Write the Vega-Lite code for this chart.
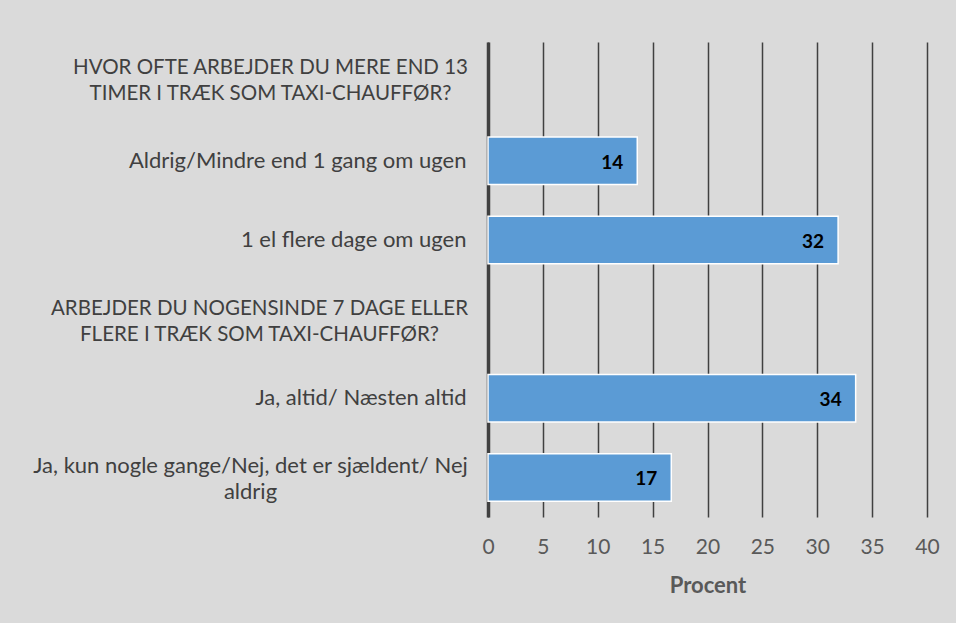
{
  "$schema": "https://vega.github.io/schema/vega-lite/v6.json",
  "width": 439,
  "height": 475,
  "autosize": {"type": "none"},
  "padding": {"left": 488, "top": 42, "right": 29, "bottom": 106},
  "background": "#dadada",
  "config": {"view": {"stroke": null}, "font": "Lato"},
  "data": {
    "values": [
      {"cat": "HVOR OFTE ARBEJDER DU MERE END 13|TIMER I TRÆK SOM TAXI-CHAUFFØR?", "order": 1, "value": null, "label": ""},
      {"cat": "Aldrig/Mindre end 1 gang om ugen", "order": 2, "value": 13.6, "label": "14"},
      {"cat": "1 el flere dage om ugen", "order": 3, "value": 31.9, "label": "32"},
      {"cat": "ARBEJDER DU NOGENSINDE 7 DAGE ELLER|FLERE I TRÆK SOM TAXI-CHAUFFØR?", "order": 4, "value": null, "label": ""},
      {"cat": "Ja, altid/ Næsten altid", "order": 5, "value": 33.5, "label": "34"},
      {"cat": "Ja, kun nogle gange/Nej, det er sjældent/ Nej|aldrig", "order": 6, "value": 16.7, "label": "17"}
    ]
  },
  "encoding": {
    "y": {
      "field": "cat",
      "type": "nominal",
      "sort": {"field": "order", "op": "min"},
      "scale": {"paddingInner": 0.4, "paddingOuter": 0.2},
      "axis": {
        "title": null,
        "ticks": false,
        "grid": false,
        "labelFont": "Lato",
        "labelFontSize": {"condition": {"test": "indexof(datum.value, 'TAXI') >= 0", "value": 20.5}, "value": 22},
        "labelColor": "#404040",
        "labelLimit": 0,
        "labelLineHeight": 26,
        "labelExpr": "split(datum.label, '|')",
        "labelAlign": {"condition": {"test": "indexof(datum.value, '|') >= 0", "value": "center"}, "value": "right"},
        "labelPadding": {"condition": [
          {"test": "indexof(datum.value, 'HVOR') >= 0", "value": 218},
          {"test": "indexof(datum.value, 'NOGENSINDE') >= 0", "value": 229},
          {"test": "indexof(datum.value, 'kun nogle') >= 0", "value": 238}
        ], "value": 22},
        "labelOffset": {"condition": [
          {"test": "indexof(datum.value, 'HVOR') >= 0", "value": -14},
          {"test": "indexof(datum.value, 'NOGENSINDE') >= 0", "value": -10},
          {"test": "indexof(datum.value, 'kun nogle') >= 0", "value": -11}
        ], "value": 0},
        "domainColor": "#404040",
        "domainWidth": 3.5
      }
    }
  },
  "layer": [
    {
      "mark": {"type": "bar", "fill": "#5b9bd5", "stroke": "white", "strokeWidth": 1.5},
      "encoding": {
        "x": {
          "field": "value",
          "type": "quantitative",
          "scale": {"domain": [0, 40], "nice": false},
          "axis": {
            "values": [0, 5, 10, 15, 20, 25, 30, 35, 40],
            "grid": true,
            "gridColor": "#404040",
            "gridWidth": 1.5,
            "gridOpacity": 1,
            "domain": false,
            "ticks": false,
            "labelFlush": false,
            "labelFont": "Lato",
            "labelFontSize": 21,
            "labelColor": "#595959",
            "labelPadding": 19,
            "title": "Procent",
            "titleFont": "Lato",
            "titleFontSize": 22,
            "titleFontWeight": "bold",
            "titleColor": "#595959",
            "titlePadding": 18
          }
        }
      }
    },
    {
      "mark": {"type": "text", "align": "right", "baseline": "middle", "dx": -14, "dy": 2, "fontWeight": "bold", "fontSize": 19, "font": "Lato", "color": "black"},
      "encoding": {
        "x": {"field": "value", "type": "quantitative"},
        "text": {"field": "label"}
      }
    }
  ]
}
